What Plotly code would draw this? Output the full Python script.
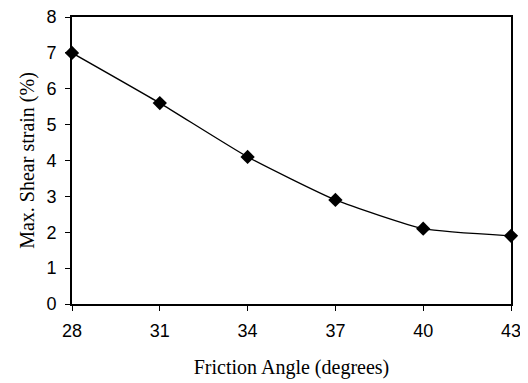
import plotly.graph_objects as go

friction_angle = [28, 31, 34, 37, 40, 43]
max_shear_strain = [7.0, 5.6, 4.1, 2.9, 2.1, 1.9]
x_ticks = [28, 31, 34, 37, 40, 43]
y_ticks = [0, 1, 2, 3, 4, 5, 6, 7, 8]

fig = go.Figure()
fig.add_trace(go.Scatter(
    x=friction_angle, y=max_shear_strain, mode="lines+markers",
    line=dict(color="black", width=1.3, shape="spline", smoothing=0.5),
    marker=dict(symbol="diamond", size=11, color="black"),
    cliponaxis=False, showlegend=False,
))

axis_common = dict(
    showgrid=False, zeroline=False, showline=True, linecolor="black", linewidth=2,
    mirror=True, ticks="outside", ticklen=5, tickcolor="black", tickwidth=1,
    automargin=False, ticklabeloverflow="allow",
    tickfont=dict(family="Liberation Sans, Arial", size=18, color="black"),
)
title_font = dict(family="Liberation Serif, Times New Roman", size=20, color="black")
fig.update_xaxes(range=[28, 43], tickvals=x_ticks, ticklabelstandoff=4,
                 title=dict(text="Friction Angle (degrees)", standoff=20, font=title_font),
                 **axis_common)
fig.update_yaxes(range=[0, 8], tickvals=y_ticks, ticklabelstandoff=5,
                 title=dict(text="Max. Shear strain (%)", standoff=6, font=title_font),
                 **axis_common)
fig.update_layout(
    width=520, height=375, margin=dict(l=64, r=17, t=9, b=79),
    paper_bgcolor="white", plot_bgcolor="white",
)
fig.write_html("out.html")
